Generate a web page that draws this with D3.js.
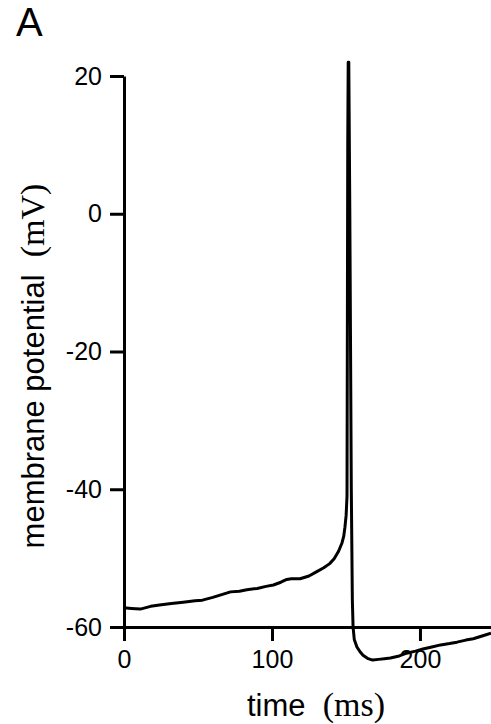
<!DOCTYPE html>
<html lang="en">
<head>
    <meta charset="utf-8">
    <script src="https://cdn.jsdelivr.net/npm/d3@7/dist/d3.min.js"></script>
    <style>
        body {
            margin: 0;
            background: white;
        }

        .axis path,
        .axis line {
            fill: none;
            stroke: black;
            stroke-width: 3;
        }

        .axis text {
            font-family: 'Liberation Sans', Arial, sans-serif;
            font-size: 25px;
            fill: black;
        }

        .trace {
            fill: none;
            stroke: black;
            stroke-width: 3;
            stroke-linejoin: round;
        }

        .title {
            font-family: 'Liberation Sans', Arial, sans-serif;
            font-size: 31px;
            fill: black;
        }

        .unit {
            font-family: 'Liberation Serif', 'Times New Roman', serif;
            font-size: 34px;
        }
    </style>
</head>
<body>
<div id="chart"></div>

<script>

    var timeMs = [0, 5, 11, 18, 24, 32, 40, 48, 53, 60, 66, 72, 78, 83, 90, 96, 101, 106, 110, 113,
        119, 125, 130, 135, 139, 142, 145, 147.3, 148.5, 149.3, 150.1, 150.7, 151.2, 151.5, 151.9,
        152.6, 153.6, 154.3, 154.8, 155.6, 157.4, 159.5, 161.5, 165, 168, 172, 176, 180, 186, 191,
        197, 202, 208, 214, 220, 225, 231, 236, 242, 248];
    var voltage = [-57.2, -57.3, -57.4, -57.0, -56.8, -56.6, -56.4, -56.2, -56.1, -55.7, -55.3, -54.9,
        -54.8, -54.6, -54.4, -54.1, -53.9, -53.5, -53.1, -53.0, -53.0, -52.6, -52.0, -51.4, -50.8,
        -50.1, -49.0, -47.8, -46.8, -45.5, -43.8, -41.0, 10, 22, 22, 0, -40, -56, -60, -61.8, -62.9,
        -63.6, -64.1, -64.6, -64.8, -64.7, -64.6, -64.5, -64.2, -63.8, -63.5, -63.2, -62.9, -62.6,
        -62.4, -62.2, -61.9, -61.7, -61.3, -60.9];

    var yTicks = [-60, -40, -20, 0, 20];
    var xTicks = [0, 100, 200];

    var width = 491, height = 724;

    var svg = d3.select("#chart").append("svg")
        .attr("width", width)
        .attr("height", height);

    var x = d3.scaleLinear()
        .domain([0, 248])
        .range([124, 491]);

    var y = d3.scaleLinear()
        .domain([-60, 20])
        .range([627, 76]);

    // plain hyphen for negatives, like the figure
    var plain = function (d) { return String(d); };

    // axes
    svg.append("g")
        .attr("class", "x axis")
        .attr("transform", "translate(0,627)")
        .call(d3.axisBottom(x).tickValues(xTicks).tickFormat(plain)
            .tickSize(14).tickSizeOuter(0).tickPadding(9));

    svg.append("g")
        .attr("class", "y axis")
        .attr("transform", "translate(124,0)")
        .call(d3.axisLeft(y).tickValues(yTicks).tickFormat(plain)
            .tickSize(14).tickSizeOuter(0).tickPadding(8));

    // the trace
    var points = timeMs.map(function (t, i) {
        return [t, voltage[i]];
    });

    var line = d3.line()
        .x(function (d) { return x(d[0]); })
        .y(function (d) { return y(d[1]); });

    svg.append("path")
        .datum(points)
        .attr("class", "trace")
        .attr("d", line);

    // labels
    svg.append("text")
        .attr("class", "title")
        .attr("x", 16)
        .attr("y", 36)
        .style("font-size", "40px")
        .text("A");

    var xl = svg.append("text")
        .attr("class", "title")
        .attr("x", 316)
        .attr("y", 716)
        .attr("text-anchor", "middle");
    xl.append("tspan").text("time\u00a0\u00a0");
    xl.append("tspan").attr("class", "unit").text("(ms)");

    var yl = svg.append("text")
        .attr("class", "title")
        .attr("transform", "translate(44,366) rotate(-90)")
        .attr("text-anchor", "middle");
    yl.append("tspan").text("membrane potential\u00a0\u00a0");
    yl.append("tspan").attr("class", "unit").text("(mV)");

</script>
</body>
</html>
